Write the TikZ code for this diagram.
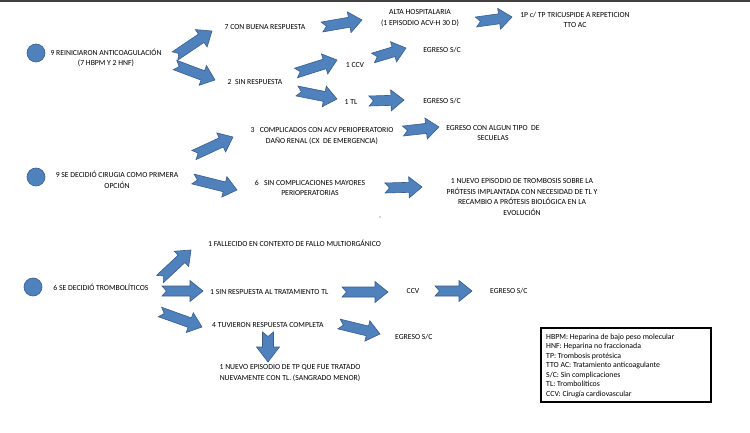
\documentclass[tikz,border=0pt]{standalone}
\usepackage{fontspec}
\setmainfont{Carlito}
\definecolor{arrowblue}{HTML}{4F81BD}
\definecolor{arrowedge}{HTML}{385D8A}
\tikzset{
  blockarrow/.style={fill=arrowblue, draw=arrowedge, line width=0.6pt, line join=miter},
  startdot/.style={circle, fill=arrowblue, draw=arrowedge, line width=0.6pt, minimum size=18pt, inner sep=0pt},
  lbl/.style={font=\fontsize{7.7}{10.5}\selectfont, align=center, inner sep=0pt, text=black},
  legendtxt/.style={font=\fontsize{7.8}{9.5}\selectfont, align=left, inner sep=0pt, text=black},
  legendbox/.style={draw=black, line width=2.4pt}
}
\newcommand{\arsw}{5}
\newcommand{\arhw}{10.5}
\newcommand{\arhl}{13}
\newcommand{\arnotch}{4.5}
% block arrow with notched tail: tail (#1,#2) -> tip (#3,#4)
\newcommand{\myarrow}[4]{%
  \pgfmathsetmacro{\arang}{atan2(-((#4)-(#2)),(#3)-(#1))}%
  \pgfmathsetmacro{\arlen}{veclen((#3)-(#1),(#4)-(#2))}%
  \pgfmathsetmacro{\arbase}{\arlen-\arhl}%
  \begin{scope}[shift={(#1,#2)},rotate=\arang]
    \filldraw[blockarrow] (0,-\arsw) -- (\arbase,-\arsw) -- (\arbase,-\arhw) -- (\arlen,0)
      -- (\arbase,\arhw) -- (\arbase,\arsw) -- (0,\arsw) -- (\arnotch,0) -- cycle;
  \end{scope}}
\begin{document}
\begin{tikzpicture}[x=1pt,y=-1pt]
\useasboundingbox (0,0) rectangle (750,433);
\fill[white] (0,0) rectangle (750,433);
\fill[black!75] (0,0) rectangle (750,2);

% ---------- section 1 ----------
\node[startdot] (c1) at (36,53) {};
\node[lbl] (s1) at (106,58) {9 REINICIARON ANTICOAGULACIÓN\\(7 HBPM Y 2 HNF)};
\node[lbl] (s1good) at (265,27) {7 CON BUENA RESPUESTA};
\node[lbl] (s1none) at (255,82) {2\ \ SIN RESPUESTA};
\node[lbl] (s1alta) at (420,18) {ALTA HOSPITALARIA\\(1 EPISODIO ACV-H 30 D)};
\node[lbl] (s1tric) at (575,20) {1P c/ TP TRICUSPIDE A REPETICION\\TTO AC};
\node[lbl] (s1ccv) at (355,65) {1 CCV};
\node[lbl] (s1tl) at (351,102) {1 TL};
\node[lbl] (s1eg1) at (442,50) {EGRESO S/C};
\node[lbl] (s1eg2) at (442,101) {EGRESO S/C};

\myarrow{175}{56}{212}{31}
\myarrow{175}{65}{215}{80}
\myarrow{322}{27}{362}{20}
\myarrow{476}{22}{512}{17}
\myarrow{296}{73}{337}{60}
\myarrow{297}{91}{337}{99}
\myarrow{373}{58}{406}{48}
\myarrow{369}{101}{404}{100}

% ---------- section 2 ----------
\node[startdot] (c2) at (36,177) {};
\node[lbl] (s2) at (117,180) {9 SE DECIDIÓ CIRUGIA COMO PRIMERA\\OPCIÓN};
\node[lbl] (s2comp) at (322,136) {3\ \ \ COMPLICADOS CON ACV PERIOPERATORIO\\DAÑO RENAL (CX\ \ DE EMERGENCIA)};
\node[lbl] (s2ok) at (310,188) {6\ \ \ SIN COMPLICACIONES MAYORES\\PERIOPERATORIAS};
\node[lbl] (s2seq) at (493,133) {EGRESO CON ALGUN TIPO\ \ DE\\SECUELAS};
\node[lbl] (s2new) at (522,197) {1 NUEVO EPISODIO DE TROMBOSIS SOBRE LA\\PRÓTESIS IMPLANTADA CON NECESIDAD DE TL Y\\RECAMBIO A PRÓTESIS BIOLÓGICA EN LA\\EVOLUCIÓN};
\node[circle, fill=black!70, inner sep=0pt, minimum size=1.3pt] (stray) at (380,217) {};

\myarrow{194}{155}{233}{137}
\myarrow{193}{179}{237}{190}
\myarrow{403}{131}{439}{127}
\myarrow{385}{188}{422}{187}

% ---------- section 3 ----------
\node[startdot] (c3) at (33,287) {};
\node[lbl] (s3) at (101,287) {6 SE DECIDIÓ TROMBOLÍTICOS};
\node[lbl, anchor=west] (s3dead) at (208,243) {1 FALLECIDO EN CONTEXTO DE FALLO MULTIORGÁNICO};
\node[lbl, anchor=west] (s3none) at (210,292) {1 SIN RESPUESTA AL TRATAMIENTO TL};
\node[lbl] (s3ccv) at (413,291) {CCV};
\node[lbl, anchor=west] (s3eg1) at (490,291) {EGRESO S/C};
\node[lbl, anchor=west] (s3full) at (212,325) {4 TUVIERON RESPUESTA COMPLETA};
\node[lbl, anchor=west] (s3eg2) at (395,337) {EGRESO S/C};
\node[lbl] (s3new) at (290,373) {1 NUEVO EPISODIO DE TP QUE FUE TRATADO\\NUEVAMENTE CON TL. (SANGRADO MENOR)};

\myarrow{160}{279}{191}{250}
\myarrow{162}{291}{203}{291}
\myarrow{342}{292}{388}{292}
\myarrow{435}{291}{472}{291}
\myarrow{160}{312}{202}{327}
\myarrow{339}{324}{380}{334}
\renewcommand{\arsw}{5.5}
\renewcommand{\arhw}{11.5}
\renewcommand{\arhl}{15}
\myarrow{268}{332}{268}{362}

% ---------- legend ----------
\draw[legendbox] (541,328) rectangle (711,402);
\node[legendtxt, anchor=west] (legend) at (546,365.5) {HBPM: Heparina de bajo peso molecular\\HNF: Heparina no fraccionada\\TP: Trombosis protésica\\TTO AC: Tratamiento anticoagulante\\S/C: Sin complicaciones\\TL: Trombolíticos\\CCV: Cirugía cardiovascular};
\end{tikzpicture}
\end{document}
